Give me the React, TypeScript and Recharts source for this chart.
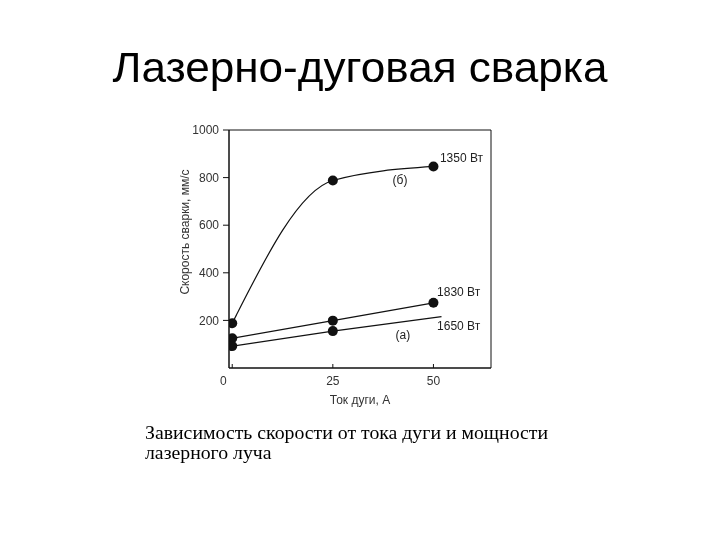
import React from 'react';
import { LineChart, Line, XAxis, YAxis, ReferenceArea, ReferenceDot } from 'recharts';

// ток дуги, А
const currentA = [0, 25, 50];
const current1650 = [0, 25, 52];
const markedCurrent = [0, 25, 50];
// скорость сварки, мм/с
const speed1350 = [188, 788, 847];
const speed1830 = [125, 199, 274];
const speed1650 = [92, 155, 216];

const xTicks = [0, 25, 50];
const yTicks = [200, 400, 600, 800, 1000];

// подписи кривых (в координатах данных)
const notes = [
  { x: 51.6, y: 882, text: '1350 Вт', pos: 'right' },
  { x: 41.7, y: 790, text: '(б)', pos: 'center' },
  { x: 50.9, y: 319, text: '1830 Вт', pos: 'right' },
  { x: 50.9, y: 176, text: '1650 Вт', pos: 'right' },
  { x: 42.4, y: 139, text: '(а)', pos: 'center' },
];

const toRows = (xs: number[], ys: number[]) => xs.map((x, i) => ({ x, y: ys[i] }));

const font = '"Liberation Sans", Arial, sans-serif';
const ink = '#111';

const Dot = (props: any) => {
  const { cx, cy, payload, index } = props;
  if (!markedCurrent.includes(payload.x)) return <g key={index} />;
  return <circle key={index} cx={cx} cy={cy} r={5} fill={ink} stroke="none" />;
};

const XTick = ({ x, y, payload }: any) => (
  <g>
    <line x1={x} x2={x} y1={y - 4} y2={y} stroke={ink} />
    {/* в оригинале ноль сдвинут влево от отметки */}
    <text x={payload.value === 0 ? x - 9 : x} y={y + 17} textAnchor="middle" fontSize={12} fontFamily={font} fill="#333">
      {payload.value}
    </text>
  </g>
);

const YTitle = ({ viewBox }: any) => {
  const cx = viewBox.x + 17;
  const cy = viewBox.y + viewBox.height / 2 - 17;
  return (
    <text x={cx} y={cy} transform={`rotate(-90 ${cx} ${cy})`} textAnchor="middle"
      dominantBaseline="middle" fontSize={12} fontFamily={font} fill="#333">
      Скорость сварки, мм/с
    </text>
  );
};

export default function App() {
  return (
    <div style={{ position: 'fixed', left: 0, top: 0, width: 720, height: 540, background: '#fff' }}>
      <div style={{ position: 'absolute', left: 0, top: 47, width: 720, textAlign: 'center',
        fontFamily: font, fontSize: 42, lineHeight: 1, color: '#000',
        transform: 'scaleX(1.05)', transformOrigin: '359px 0' }}>
        Лазерно-дуговая сварка
      </div>
      <LineChart width={720} height={540} margin={{ top: 130, right: 229, bottom: 132, left: 169 }}>
        <XAxis type="number" dataKey="x" domain={[-0.8, 64.3]} ticks={xTicks} allowDataOverflow
          height={40} tickSize={0} tickMargin={0} tickLine={false} tick={<XTick />}
          axisLine={{ stroke: ink }}
          label={{ value: 'Ток дуги, А', position: 'insideBottom', offset: 4, fontSize: 12, fontFamily: font, fill: '#333' }} />
        <YAxis type="number" domain={[0, 1000]} ticks={yTicks} width={60} tickSize={6} tickMargin={4}
          tickLine={{ stroke: ink }} axisLine={{ stroke: ink }}
          tick={{ fontSize: 12, fontFamily: font, fill: '#333' }}
          label={<YTitle />} />
        <ReferenceArea x1={-0.8} x2={64.3} y1={0} y2={1000} fill="none" stroke={ink} strokeWidth={1} />
        <Line data={toRows(currentA, speed1350)} dataKey="y" type="monotone" stroke={ink} strokeWidth={1.2}
          dot={<Dot />} activeDot={false} isAnimationActive={false} />
        <Line data={toRows(currentA, speed1830)} dataKey="y" type="linear" stroke={ink} strokeWidth={1.2}
          dot={<Dot />} activeDot={false} isAnimationActive={false} />
        <Line data={toRows(current1650, speed1650)} dataKey="y" type="linear" stroke={ink} strokeWidth={1.2}
          dot={<Dot />} activeDot={false} isAnimationActive={false} />
        {notes.map((n) => (
          <ReferenceDot key={n.text} x={n.x} y={n.y} r={0} fill="none" stroke="none"
            label={{ value: n.text, position: n.pos as any, offset: 0, fontSize: 12, fontFamily: font, fill: '#222', stroke: 'none' }} />
        ))}
      </LineChart>
      <div style={{ position: 'absolute', left: 145, top: 422, width: 460,
        fontFamily: '"Liberation Serif", "Times New Roman", serif', fontSize: 19.8, lineHeight: '20px', color: '#000' }}>
        Зависимость скорости от тока дуги и мощности<br />лазерного луча
      </div>
    </div>
  );
}
